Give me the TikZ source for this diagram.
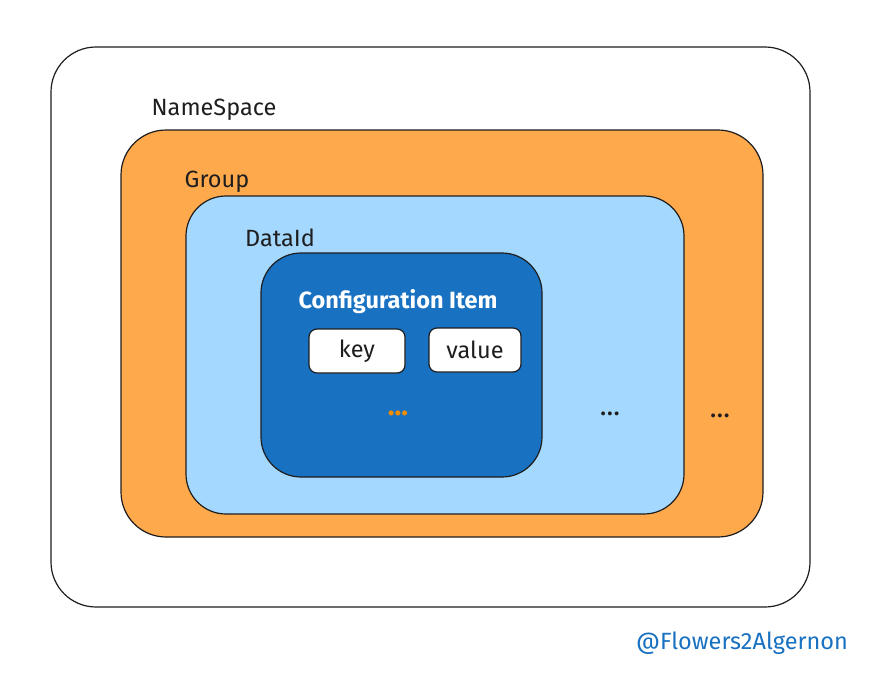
\documentclass[tikz,border=0pt]{standalone}
\usepackage{fontspec}
\setmainfont{Fira Sans}
\definecolor{ink}{HTML}{1E1E1E}
\definecolor{orangefill}{HTML}{FFA94D}
\definecolor{lightblue}{HTML}{A5D8FF}
\definecolor{darkblue}{HTML}{1971C2}
\definecolor{dotorange}{HTML}{F08C00}
\begin{document}
\begin{tikzpicture}[x=1pt,y=-1pt,
  box/.style={draw=ink,line width=1.2pt},
  lbl/.style={font=\fontsize{23.5}{27}\selectfont,text=ink,inner sep=0pt},
  dotlbl/.style={font=\fontsize{28}{30}\selectfont,text=ink,inner sep=0pt},
  pill/.style={draw=ink,fill=white,line width=1.2pt,rounded corners=8pt,minimum width=96pt,minimum height=44pt,font=\fontsize{23.5}{27}\selectfont,text=ink,inner sep=0pt}]
\useasboundingbox (0,0) rectangle (886,688);
\fill[white] (0,0) rectangle (886,688);
\draw[box,fill=white,rounded corners=45pt] (51,47) rectangle (810,607);
\draw[box,fill=orangefill,rounded corners=45pt] (121,130) rectangle (763,537);
\draw[box,fill=lightblue,rounded corners=40pt] (186,196) rectangle (684,514);
\draw[box,fill=darkblue,rounded corners=40pt] (261,253) rectangle (542,477);
\node[lbl] (nslbl) at (214,110) {NameSpace};
\node[lbl] (grplbl) at (217,182) {Group};
\node[lbl] (dilbl) at (280,238) {DataId};
\node[lbl,text=white,font=\fontsize{23.5}{27}\selectfont\bfseries] (cilbl) at (398,302) {Configuration Item};
\node[pill] (key) at (357,351) {key};
\node[pill,minimum width=92pt] (value) at (475,350) {value};
\node[dotlbl,text=dotorange,font=\fontsize{28}{30}\selectfont\bfseries] (dots1) at (398,413) {...};
\node[dotlbl] (dots2) at (610,414) {...};
\node[dotlbl] (dots3) at (720,416) {...};
\node[lbl,text=darkblue] (handle) at (742,643) {@Flowers2Algernon};
\end{tikzpicture}
\end{document}
